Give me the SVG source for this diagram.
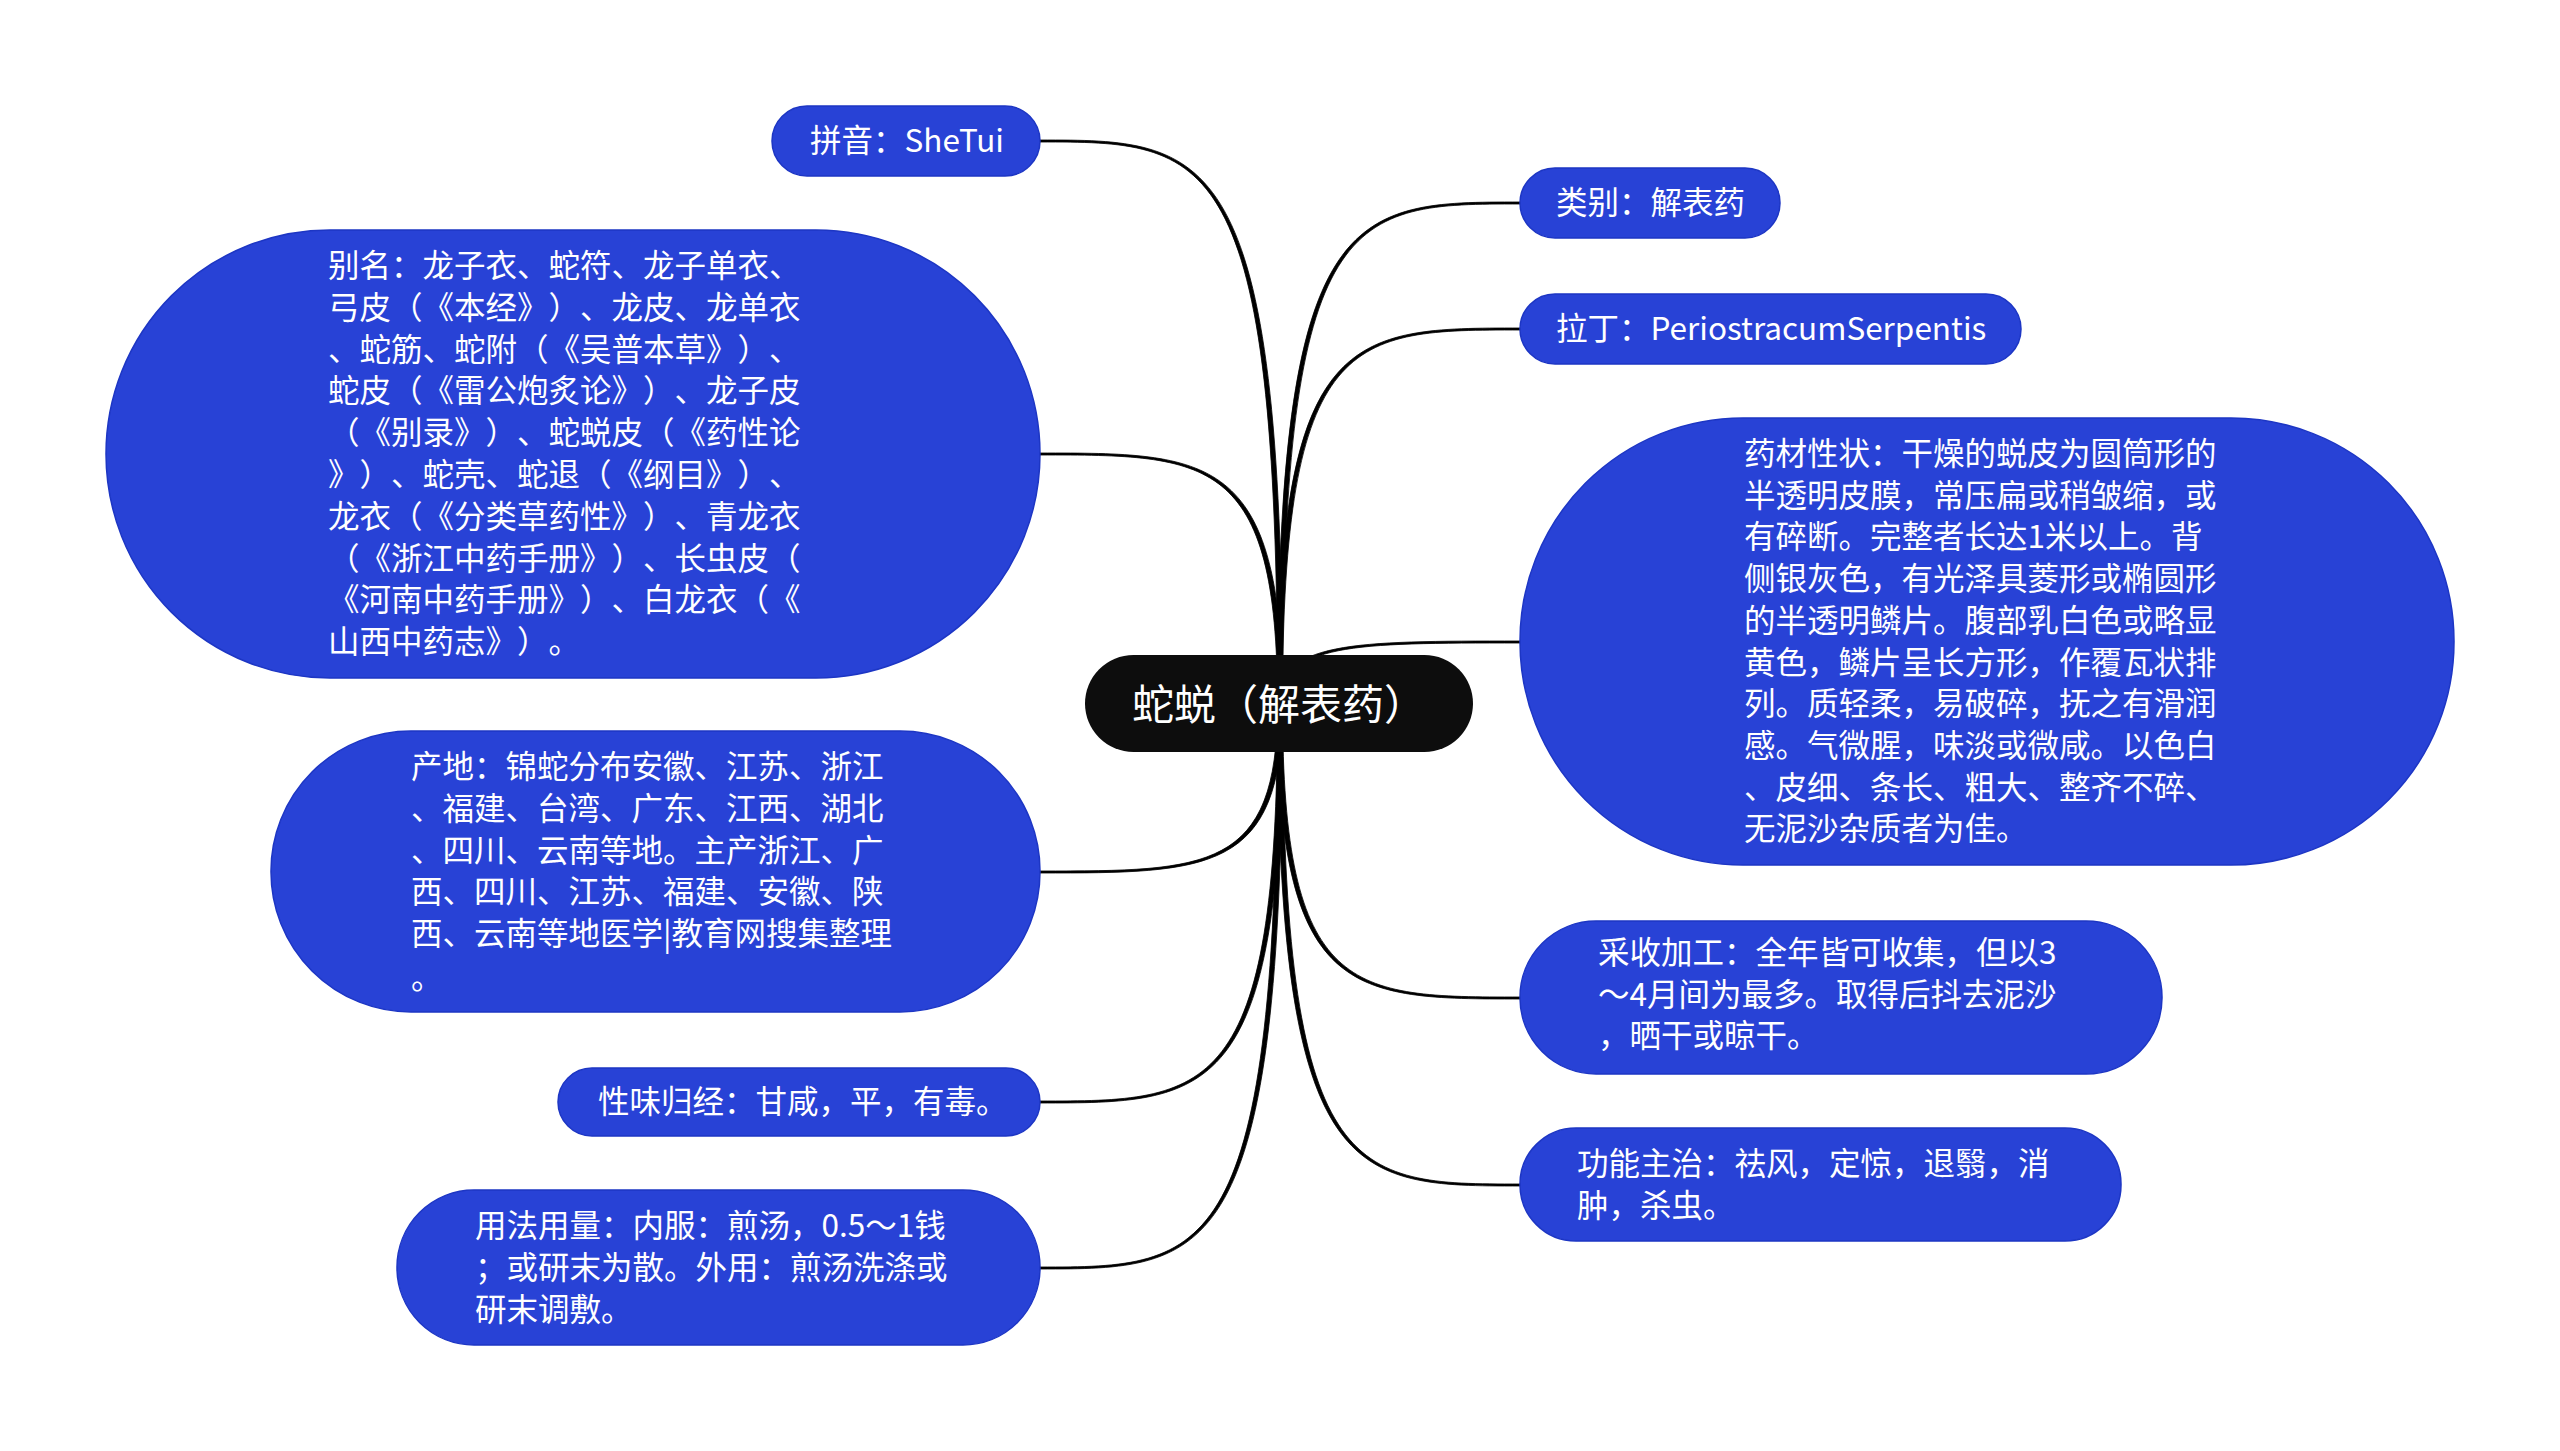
<svg xmlns="http://www.w3.org/2000/svg" width="2560" height="1451" viewBox="0 0 2560 1451">
<style>
.n{fill:#2842d6;stroke:#1d36c4;stroke-width:1.5}
.t{font-family:"Noto Sans CJK SC","Noto Sans",sans-serif;font-size:31.5px;fill:#ffffff;text-spacing-trim:space-all;font-feature-settings:"chws" 0,"halt" 0}
.c{fill:#000;stroke:#000;stroke-width:0.8}
</style>
<rect width="2560" height="1451" fill="#ffffff"/>
<g id="connectors">
<path class="c" d="M1282.5,705 C1282.5,140 1208,140 1040,140 L1040,142 C1208,142 1277.5,142 1277.5,705 Z"/>
<path class="c" d="M1282.5,705 C1282.5,453 1208,453 1040,453 L1040,455 C1208,455 1277.5,455 1277.5,705 Z"/>
<path class="c" d="M1282.5,705 C1282.5,873 1208,873 1040,873 L1040,871 C1208,871 1277.5,871 1277.5,705 Z"/>
<path class="c" d="M1282.5,705 C1282.5,1103 1208,1103 1040,1103 L1040,1101 C1208,1101 1277.5,1101 1277.5,705 Z"/>
<path class="c" d="M1282.5,705 C1282.5,1269 1208,1269 1040,1269 L1040,1267 C1208,1267 1277.5,1267 1277.5,705 Z"/>
<path class="c" d="M1277.5,705 C1277.5,202 1352,202 1520,202 L1520,204 C1352,204 1282.5,204 1282.5,705 Z"/>
<path class="c" d="M1277.5,705 C1277.5,328 1352,328 1520,328 L1520,330 C1352,330 1282.5,330 1282.5,705 Z"/>
<path class="c" d="M1277.5,705 C1277.5,641 1352,641 1520,641 L1520,643 C1352,643 1282.5,643 1282.5,705 Z"/>
<path class="c" d="M1277.5,705 C1277.5,999 1352,999 1520,999 L1520,997 C1352,997 1282.5,997 1282.5,705 Z"/>
<path class="c" d="M1277.5,705 C1277.5,1186 1352,1186 1520,1186 L1520,1184 C1352,1184 1282.5,1184 1282.5,705 Z"/>
</g>
<g id="root">
<rect x="1085" y="655" width="388" height="97" rx="48.5" fill="#0d0d0d"/>
<text class="t" x="1132" y="720" style="font-size:42px">蛇蜕（解表药）</text>
</g>
<g id="pinyin">
<rect class="n" x="772" y="106" width="268" height="70" rx="35"/>
<text class="t" x="810" y="152">拼音：SheTui</text>
</g>
<g id="alias">
<rect class="n" x="106" y="230" width="934" height="448" rx="224"/>
<text class="t" x="328" y="277">别名：龙子衣、蛇符、龙子单衣、</text>
<text class="t" x="328" y="318.8">弓皮（《本经》）、龙皮、龙单衣</text>
<text class="t" x="328" y="360.6">、蛇筋、蛇附（《吴普本草》）、</text>
<text class="t" x="328" y="402.4">蛇皮（《雷公炮炙论》）、龙子皮</text>
<text class="t" x="328" y="444.2">（《别录》）、蛇蜕皮（《药性论</text>
<text class="t" x="328" y="486">》）、蛇壳、蛇退（《纲目》）、</text>
<text class="t" x="328" y="527.8">龙衣（《分类草药性》）、青龙衣</text>
<text class="t" x="328" y="569.6">（《浙江中药手册》）、长虫皮（</text>
<text class="t" x="328" y="611.4">《河南中药手册》）、白龙衣（《</text>
<text class="t" x="328" y="653.2">山西中药志》）。</text>
</g>
<g id="origin">
<rect class="n" x="271" y="731" width="769" height="281" rx="140"/>
<text class="t" x="411" y="778">产地：锦蛇分布安徽、江苏、浙江</text>
<text class="t" x="411" y="819.8">、福建、台湾、广东、江西、湖北</text>
<text class="t" x="411" y="861.6">、四川、云南等地。主产浙江、广</text>
<text class="t" x="411" y="903.4">西、四川、江苏、福建、安徽、陕</text>
<text class="t" x="411" y="945.2">西、云南等地医学|教育网搜集整理</text>
<text class="t" x="411" y="989">。</text>
</g>
<g id="nature">
<rect class="n" x="558" y="1068" width="482" height="68" rx="34"/>
<text class="t" x="598" y="1113">性味归经：甘咸，平，有毒。</text>
</g>
<g id="usage">
<rect class="n" x="397" y="1190" width="643" height="155" rx="77"/>
<text class="t" x="475" y="1237">用法用量：内服：煎汤，0.5～1钱</text>
<text class="t" x="475" y="1278.8">；或研末为散。外用：煎汤洗涤或</text>
<text class="t" x="475" y="1320.6">研末调敷。</text>
</g>
<g id="category">
<rect class="n" x="1520" y="168" width="260" height="70" rx="35"/>
<text class="t" x="1556" y="214">类别：解表药</text>
</g>
<g id="latin">
<rect class="n" x="1520" y="294" width="501" height="70" rx="35"/>
<text class="t" x="1556" y="340">拉丁：PeriostracumSerpentis</text>
</g>
<g id="description">
<rect class="n" x="1520" y="418" width="934" height="447" rx="223"/>
<text class="t" x="1744" y="465">药材性状：干燥的蜕皮为圆筒形的</text>
<text class="t" x="1744" y="506.7">半透明皮膜，常压扁或稍皱缩，或</text>
<text class="t" x="1744" y="548.4">有碎断。完整者长达1米以上。背</text>
<text class="t" x="1744" y="590.1">侧银灰色，有光泽具菱形或椭圆形</text>
<text class="t" x="1744" y="631.8">的半透明鳞片。腹部乳白色或略显</text>
<text class="t" x="1744" y="673.5">黄色，鳞片呈长方形，作覆瓦状排</text>
<text class="t" x="1744" y="715.2">列。质轻柔，易破碎，抚之有滑润</text>
<text class="t" x="1744" y="756.9">感。气微腥，味淡或微咸。以色白</text>
<text class="t" x="1744" y="798.6">、皮细、条长、粗大、整齐不碎、</text>
<text class="t" x="1744" y="840.3">无泥沙杂质者为佳。</text>
</g>
<g id="harvest">
<rect class="n" x="1520" y="921" width="642" height="153" rx="76"/>
<text class="t" x="1598" y="964">采收加工：全年皆可收集，但以3</text>
<text class="t" x="1598" y="1005.7">～4月间为最多。取得后抖去泥沙</text>
<text class="t" x="1598" y="1047.4">，晒干或晾干。</text>
</g>
<g id="function">
<rect class="n" x="1520" y="1128" width="601" height="113" rx="56"/>
<text class="t" x="1577" y="1175">功能主治：祛风，定惊，退翳，消</text>
<text class="t" x="1577" y="1216.7">肿，杀虫。</text>
</g>
</svg>
